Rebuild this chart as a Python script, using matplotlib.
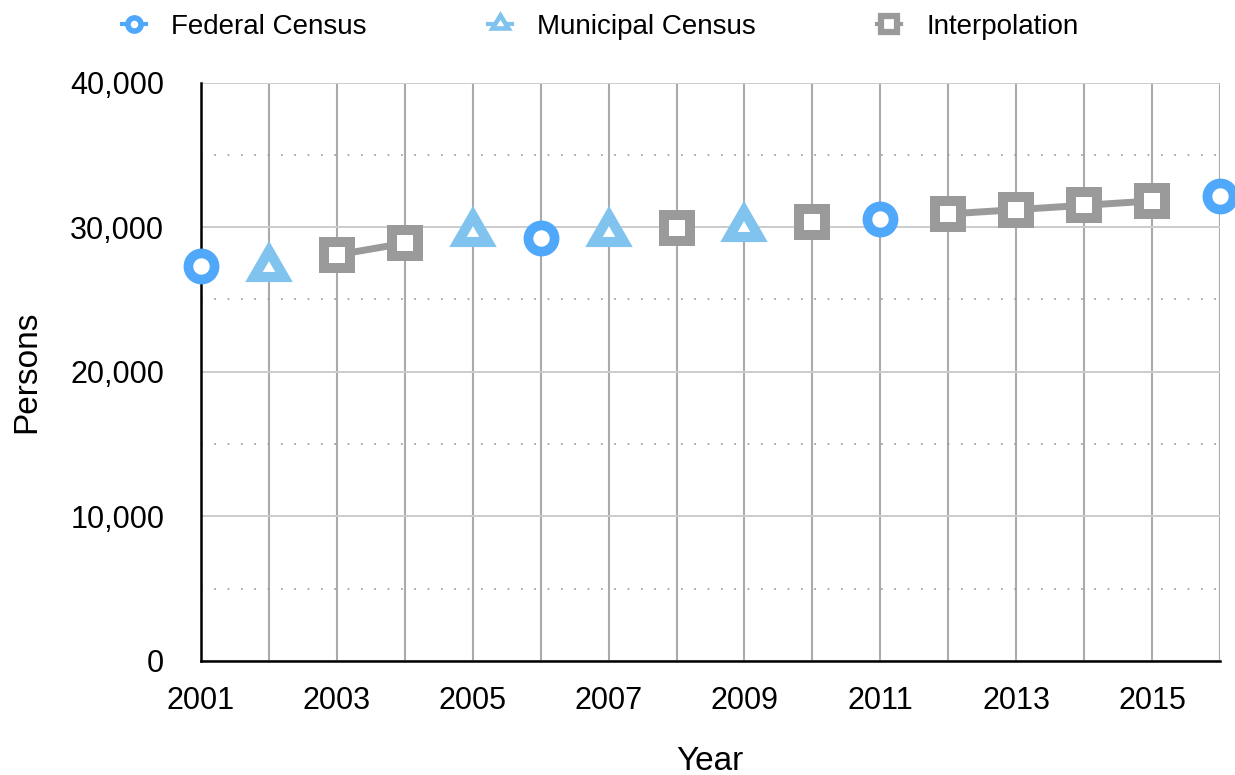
import numpy as np
import matplotlib
matplotlib.use("Agg")
import matplotlib.pyplot as plt
from matplotlib.markers import MarkerStyle
from matplotlib.transforms import Affine2D
from matplotlib.lines import Line2D
from matplotlib.ticker import MultipleLocator, FuncFormatter

plt.rcParams['font.family'] = ['Liberation Sans', 'DejaVu Sans']

years = list(range(2001, 2017))
nan = np.nan
federal = [27300, nan, nan, nan, nan, 29280, nan, nan, nan, nan, 30590, nan, nan, nan, nan, 32130]
municipal = [nan, 27140, nan, nan, 29575, nan, 29575, nan, 29960, nan, nan, nan, nan, nan, nan, nan]
interp = [nan, nan, 28080, 28890, nan, nan, nan, 29920, nan, 30360, nan, 30910, 31210, 31510, 31810, nan]
labels = ["Federal Census", "Municipal Census", "Interpolation"]
xtick_labels = [str(y) for y in range(2001, 2017, 2)]

c_fed = '#50A8FA'
c_mun = '#80C3EE'
c_int = '#9A9A9A'

# equilateral triangle, centred on its centroid, mitered corners
tri = MarkerStyle('^', transform=Affine2D().scale(1, 0.866).translate(0, 0.1443))

fig = plt.figure(figsize=(12.35, 7.75), dpi=100)
ax = fig.add_axes([201/1235, (775-661)/775, 1019/1235, (661-82.5)/775])

ax.plot(years, interp, color=c_int, lw=5, marker='s', ms=18.7, mew=7.2,
        mfc='white', mec=c_int, clip_on=False, zorder=4)
ax.plot(years, municipal, color=c_mun, lw=5, marker=tri, ms=21.8, mew=7.3,
        mfc='white', mec=c_mun, clip_on=False, zorder=4)
ax.plot(years, federal, color=c_fed, lw=5, marker='o', ms=18.8, mew=7.0,
        mfc='white', mec=c_fed, clip_on=False, zorder=4)

ax.set_xlim(2001, 2016)
ax.set_ylim(0, 40000)
ax.xaxis.set_minor_locator(MultipleLocator(1))
ax.set_xticks(list(range(2001, 2017, 2)))
ax.set_xticklabels(xtick_labels)
ax.yaxis.set_major_locator(MultipleLocator(10000))
ax.yaxis.set_minor_locator(MultipleLocator(5000))
ax.yaxis.set_major_formatter(FuncFormatter(lambda v, p: f"{int(v):,}"))

ax.tick_params(axis='both', which='both', length=0)
ax.tick_params(axis='x', labelsize=22, pad=18, colors='black')
ax.tick_params(axis='y', labelsize=22, pad=26.5, colors='black')

ax.grid(axis='x', which='both', color='#AAAAAA', lw=1.5)
ax.grid(axis='y', which='major', color='#CCCCCC', lw=1.4)
ax.grid(axis='y', which='minor', color='#999999', lw=1.2, linestyle=(0, (1, 7)))
ax.set_axisbelow(True)

for s in ['top', 'right']:
    ax.spines[s].set_visible(False)
for s in ['left', 'bottom']:
    ax.spines[s].set_color('black')
    ax.spines[s].set_linewidth(1.8)

fig.text(27/1235, 1 - 371.5/775, "Persons", rotation=90, ha='center', va='center', fontsize=24)
fig.text(710/1235, 1 - 761/775, "Year", ha='center', va='center', fontsize=24)

handles = [
    Line2D([], [], color=c_fed, lw=3, marker='o', ms=9.5, mew=4, mfc='white', mec=c_fed),
    Line2D([], [], color=c_mun, lw=3, marker=tri, ms=11, mew=3.3, mfc='white', mec=c_mun),
    Line2D([], [], color=c_int, lw=3, marker='s', ms=11.5, mew=4.5, mfc='white', mec=c_int),
]
fig.legend(handles, labels, loc='center left', bbox_to_anchor=(122/1235, 1 - 27/775),
           ncol=3, frameon=False, fontsize=20, handlelength=0.864, handletextpad=0.9,
           columnspacing=4.37, borderpad=0, borderaxespad=0, numpoints=1)

fig.savefig("out.png", dpi=100)
